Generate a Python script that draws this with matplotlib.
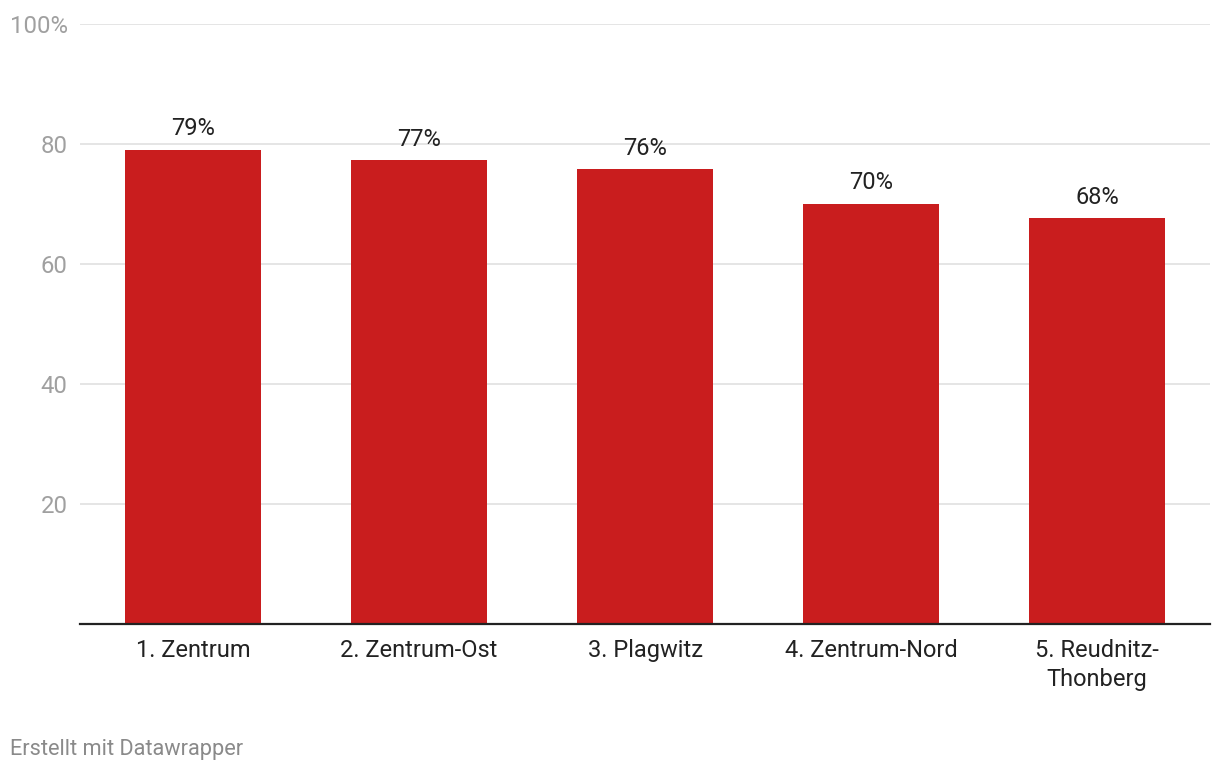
import numpy as np
import matplotlib.pyplot as plt

plt.rcParams['font.family'] = ['Roboto', 'DejaVu Sans']

districts = ['1. Zentrum', '2. Zentrum-Ost', '3. Plagwitz', '4. Zentrum-Nord', '5. Reudnitz-\nThonberg']
shares = [79.0, 77.3, 75.8, 70.0, 67.6]
yticks = [20, 40, 60, 80, 100]
ytick_labels = ['20', '40', '60', '80', '100%']

fig = plt.figure(figsize=(12.2, 7.72), dpi=100)
ax = fig.add_axes([80/1220, 1 - 624/772, 1130/1220, 600/772])

x = np.arange(len(districts))
ax.bar(x, shares, width=0.6, color='#c91d1e', zorder=2)
for xi, v in zip(x, shares):
    ax.text(xi, v + 1.6, f'{v:.0f}%', ha='center', va='bottom', fontsize=17, color='#222222')

ax.set_xlim(-0.5, len(districts) - 0.5)
ax.set_ylim(0, 100)
ax.set_yticks(yticks)
ax.set_yticklabels(ytick_labels)
ax.set_xticks(x)
ax.set_xticklabels(districts, fontsize=17, color='#222222', linespacing=1.3)
ax.tick_params(axis='y', length=0, pad=9, labelsize=17.2, labelcolor='#a0a0a0')
ax.tick_params(axis='x', length=0, pad=11)
ax.grid(axis='y', color='#e3e3e3', lw=1.3, zorder=0)
for s in ['top', 'right', 'left']:
    ax.spines[s].set_visible(False)
ax.spines['bottom'].set_color('#222222')
ax.spines['bottom'].set_linewidth(1.6)
ax.spines['bottom'].set_zorder(3)

fig.text(10/1220, 1 - 750/772, 'Erstellt mit Datawrapper', fontsize=15.7, color='#8a8a8a', va='center')

plt.savefig('out.png', dpi=100)
plt.close('all')
